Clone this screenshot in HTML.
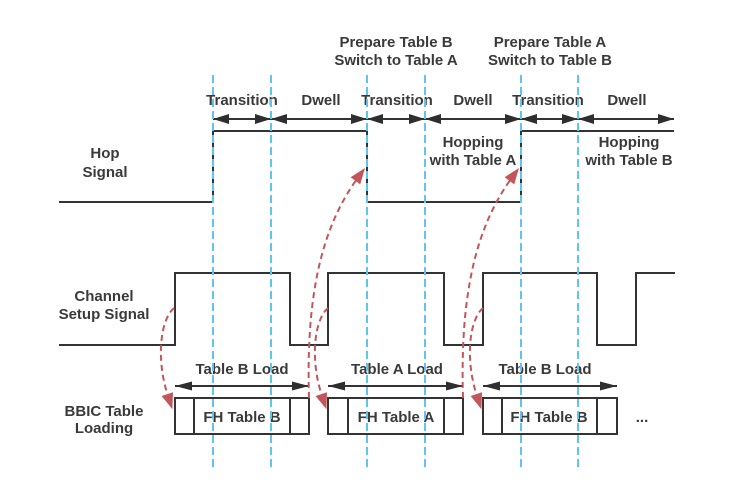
<!DOCTYPE html>
<html><head><meta charset="utf-8"><style>
html,body{margin:0;padding:0;background:#fff;}
svg{display:block;}
text{font-family:"Liberation Sans",Arial,sans-serif;font-weight:bold;font-size:15px;fill:#3a3a3c;text-anchor:middle;}
</style></head><body>
<svg width="750" height="495" viewBox="0 0 750 495" xmlns="http://www.w3.org/2000/svg">
<rect width="750" height="495" fill="#fff"/>
<g stroke="#333" stroke-width="2" fill="none">
  <polyline points="59,202 213,202 213,131 367,131 367,202 521,202 521,131 674,131"/>
  <polyline points="59,345 175,345 175,273 290,273 290,345 328,345 328,273 444,273 444,345 483,345 483,273 597,273 597,345 636,345 636,273 675,273"/>
  <line x1="213" y1="119" x2="674" y2="119"/>
  <line x1="175" y1="386" x2="309" y2="386"/>
  <line x1="328" y1="386" x2="463" y2="386"/>
  <line x1="483" y1="386" x2="617" y2="386"/>
  <rect x="175" y="398" width="134" height="36" fill="#fff"/>
  <line x1="194" y1="398" x2="194" y2="434"/><line x1="290" y1="398" x2="290" y2="434"/>
  <rect x="328" y="398" width="135" height="36" fill="#fff"/>
  <line x1="348" y1="398" x2="348" y2="434"/><line x1="444" y1="398" x2="444" y2="434"/>
  <rect x="483" y="398" width="134" height="36" fill="#fff"/>
  <line x1="502" y1="398" x2="502" y2="434"/><line x1="597" y1="398" x2="597" y2="434"/>
</g>
<g fill="#2e2e30">
  <polygon points="213,119 229,114 229,124"/><polygon points="271,119 255,114 255,124"/>
  <polygon points="271,119 287,114 287,124"/><polygon points="367,119 351,114 351,124"/>
  <polygon points="367,119 383,114 383,124"/><polygon points="425,119 409,114 409,124"/>
  <polygon points="425,119 441,114 441,124"/><polygon points="521,119 505,114 505,124"/>
  <polygon points="521,119 537,114 537,124"/><polygon points="578,119 562,114 562,124"/>
  <polygon points="578,119 594,114 594,124"/><polygon points="674,119 658,114 658,124"/>
  <polygon points="175,386 192,381.5 192,390.5"/><polygon points="309,386 292,381.5 292,390.5"/>
  <polygon points="328,386 345,381.5 345,390.5"/><polygon points="463,386 446,381.5 446,390.5"/>
  <polygon points="483,386 500,381.5 500,390.5"/><polygon points="617,386 600,381.5 600,390.5"/>
</g>
<g stroke="#c2565a" stroke-width="2" fill="none" stroke-dasharray="6,4">
  <path d="M174,308 C160,320 156,360 168,396"/>
  <path d="M328,308 C314,320 310,360 322,396"/>
  <path d="M483,308 C469,320 465,360 477,396"/>
  <path d="M309,398 C306,300 320,230 357,179"/>
  <path d="M463,398 C460,300 474,230 511,179"/>
</g>
<g fill="#c2565a">
  <polygon points="172.4,409.3 173,392.2 161.6,396"/>
  <polygon points="326.4,409.3 327,392.2 315.6,396"/>
  <polygon points="481.4,409.3 482,392.2 470.6,396"/>
  <polygon points="365,168 360.2,184.4 350.6,177.2"/>
  <polygon points="519,168 514.2,184.4 504.6,177.2"/>
</g>
<text x="396" y="47">Prepare Table B</text>
<text x="396" y="65">Switch to Table A</text>
<text x="550" y="47">Prepare Table A</text>
<text x="550" y="65">Switch to Table B</text>
<text x="242" y="105">Transition</text>
<text x="321" y="105">Dwell</text>
<text x="397" y="105">Transition</text>
<text x="473" y="105">Dwell</text>
<text x="548" y="105">Transition</text>
<text x="627" y="105">Dwell</text>
<text x="473" y="147">Hopping</text>
<text x="473" y="165">with Table A</text>
<text x="629" y="147">Hopping</text>
<text x="629" y="165">with Table B</text>
<text x="105" y="158">Hop</text>
<text x="105" y="177">Signal</text>
<text x="104" y="301">Channel</text>
<text x="104" y="319">Setup Signal</text>
<text x="104" y="416">BBIC Table</text>
<text x="104" y="433">Loading</text>
<text x="242" y="374">Table B Load</text>
<text x="397" y="374">Table A Load</text>
<text x="545" y="374">Table B Load</text>
<text x="242" y="422">FH Table B</text>
<text x="396" y="422">FH Table A</text>
<text x="549" y="422">FH Table B</text>
<text x="642" y="422">...</text>
<g stroke="#5fc4ef" stroke-width="2" stroke-dasharray="8,4">
  <line x1="213" y1="75" x2="213" y2="469"/>
  <line x1="271" y1="75" x2="271" y2="469"/>
  <line x1="367" y1="75" x2="367" y2="469"/>
  <line x1="425" y1="75" x2="425" y2="469"/>
  <line x1="521" y1="75" x2="521" y2="469"/>
  <line x1="578" y1="75" x2="578" y2="469"/>
</g>
</svg>
</body></html>
